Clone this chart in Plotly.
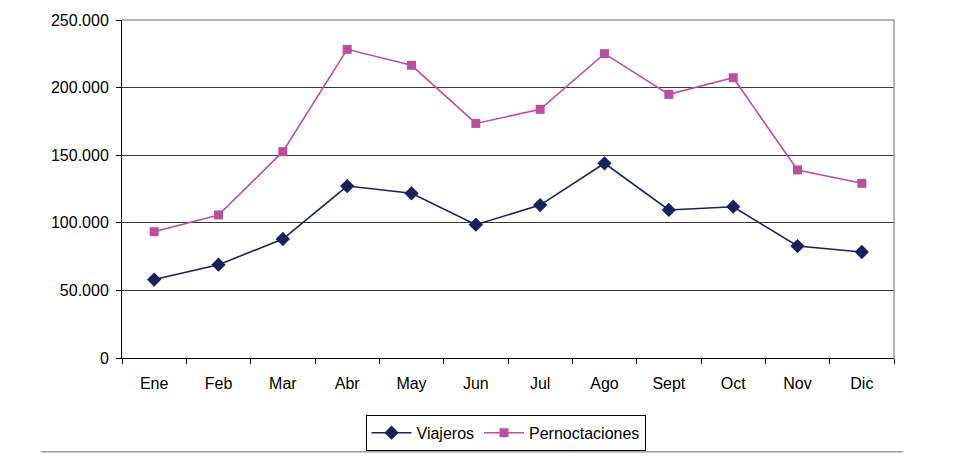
import plotly.graph_objects as go

months = ["Ene", "Feb", "Mar", "Abr", "May", "Jun", "Jul", "Ago", "Sept", "Oct", "Nov", "Dic"]
viajeros = [58000, 69000, 88000, 127200, 121800, 98600, 113100, 144000, 109500, 111900, 82800, 78400]
pernoctaciones = [93400, 105800, 152600, 228300, 216500, 173500, 183900, 225100, 195000, 207300, 139100, 129200]
y_ticks = [0, 50000, 100000, 150000, 200000, 250000]

NAVY = "#1a1f5e"
PINK = "#bb4f9e"
FONT = "Liberation Sans, Arial, sans-serif"

fig = go.Figure()
fig.add_trace(go.Scatter(
    x=months, y=viajeros, name="Viajeros", mode="lines+markers",
    line=dict(color=NAVY, width=1.6),
    marker=dict(symbol="diamond", size=11, color=NAVY),
))
fig.add_trace(go.Scatter(
    x=months, y=pernoctaciones, name="Pernoctaciones", mode="lines+markers",
    line=dict(color=PINK, width=1.6),
    marker=dict(symbol="square", size=9, color=PINK),
))

fig.update_layout(
    width=957, height=455,
    margin=dict(l=114, r=71, t=12, b=105, autoexpand=False),
    paper_bgcolor="white", plot_bgcolor="white",
    font=dict(family=FONT, size=16, color="black"),
    separators=",.",
    showlegend=True,
    legend=dict(
        orientation="h", x=0.4968, xanchor="center", y=-0.168, yanchor="top",
        bordercolor="black", borderwidth=1, bgcolor="white",
        font=dict(family=FONT, size=16, color="black"),
        itemwidth=40, tracegroupgap=0,
    ),
    xaxis=dict(
        type="category", range=[-0.5, 11.5], showgrid=False, showline=True,
        linecolor="black", linewidth=1, automargin=False,
        ticks="outside", tickson="boundaries", ticklen=5, tickcolor="black",
        ticklabelstandoff=11, zeroline=False,
    ),
    yaxis=dict(
        range=[0, 250000], tickvals=y_ticks, tickformat=",d", automargin=False,
        showgrid=True, gridcolor="#3a3a3a", gridwidth=1,
        showline=True, linecolor="black", linewidth=1,
        ticks="outside", ticklen=5, tickcolor="black", zeroline=False,
        ticklabelstandoff=4,
    ),
    shapes=[
        dict(type="line", xref="paper", yref="paper", x0=0, x1=1, y0=1, y1=1,
             line=dict(color="#9a9a9a", width=1.5), layer="above"),
        dict(type="line", xref="paper", yref="paper", x0=1, x1=1, y0=0, y1=1,
             line=dict(color="#9a9a9a", width=1.5), layer="above"),
        dict(type="line", xref="paper", yref="paper", x0=-0.1049, x1=1.0117, y0=-0.278, y1=-0.278,
             line=dict(color="#8c8c8c", width=1.2)),
        dict(type="line", xref="paper", yref="paper", x0=-0.1541, x1=-0.1541, y0=-0.3107, y1=1.056,
             line=dict(color="#e0e0e0", width=1)),
        dict(type="line", xref="paper", yref="paper", x0=1.0907, x1=1.0907, y0=-0.3107, y1=1.056,
             line=dict(color="#b0b0b0", width=1.5)),
    ],
)

fig.write_html("out.html")
